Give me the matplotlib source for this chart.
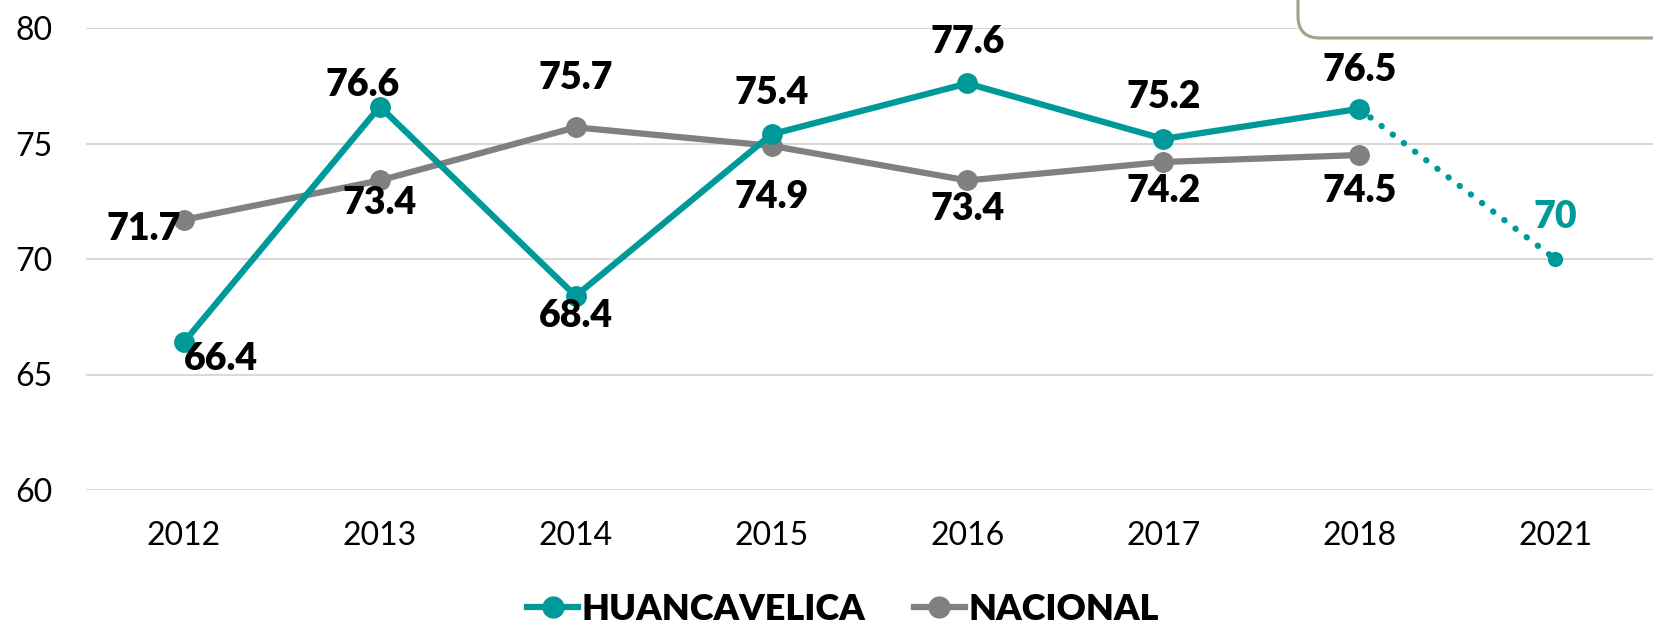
import matplotlib.pyplot as plt
from matplotlib.patches import FancyBboxPatch
from matplotlib.lines import Line2D

plt.rcParams['font.family'] = ['Lato', 'DejaVu Sans']

years = ["2012", "2013", "2014", "2015", "2016", "2017", "2018", "2021"]
huancavelica = [66.4, 76.6, 68.4, 75.4, 77.6, 75.2, 76.5]
nacional = [71.7, 73.4, 75.7, 74.9, 73.4, 74.2, 74.5]
meta_2021 = 70

teal = "#009999"
gray = "#808080"

# label offsets in pixels (dx, dy), dy positive = down
h_off = [(37, 17), (-17, -22), (0, 20), (0, -41), (0, -41), (0, -42), (0, -39)]
n_off = [(-40, 9), (0, 23), (0, -49), (0, 51), (0, 29), (0, 29), (0, 36)]

fig = plt.figure(figsize=(16.53, 6.27), dpi=100)
ax = fig.add_axes([86 / 1653, 1 - 490 / 627, 1 - 86 / 1653, (490 - 28) / 627])

xs = list(range(len(huancavelica)))
ax.plot(xs, nacional, color=gray, lw=4.5, marker="o", ms=14, zorder=3,
        solid_capstyle="round")
ax.plot(xs, huancavelica, color=teal, lw=4.5, marker="o", ms=14, zorder=4,
        solid_capstyle="round")
ax.plot([xs[-1], len(years) - 1], [huancavelica[-1], meta_2021], color=teal,
        lw=4.5, ls=(0, (0.05, 2.2)), dash_capstyle="round", zorder=4)
ax.plot([len(years) - 1], [meta_2021], color=teal, marker="o", ms=10, zorder=4)

lab_kw = dict(textcoords="offset pixels", ha="center", va="center",
              fontsize=27, fontweight="heavy", zorder=6)
for i, v in enumerate(huancavelica):
    ax.annotate(f"{v:.1f}", (i, v), xytext=(h_off[i][0], -h_off[i][1]),
                color="black", **lab_kw)
for i, v in enumerate(nacional):
    ax.annotate(f"{v:.1f}", (i, v), xytext=(n_off[i][0], -n_off[i][1]),
                color="black", **lab_kw)
ax.annotate(f"{meta_2021}", (len(years) - 1, meta_2021), xytext=(0, 42),
            color=teal, **lab_kw)

ax.set_xlim(-0.5, len(years) - 0.5)
ax.set_ylim(60, 80)
ax.set_xticks(range(len(years)))
ax.set_xticklabels(years)
ax.set_yticks([60, 65, 70, 75, 80])
ax.tick_params(length=0, labelsize=23)
ax.tick_params(axis="x", pad=22)
ax.tick_params(axis="y", pad=24)
for s in ax.spines.values():
    s.set_visible(False)
ax.grid(axis="y", color="#D9D9D9", lw=1.5)
ax.set_axisbelow(True)

handles = [Line2D([], [], color=teal, lw=4.5, marker="o", ms=15),
           Line2D([], [], color=gray, lw=4.5, marker="o", ms=15)]
fig.legend(handles, ["HUANCAVELICA", "NACIONAL"], loc="center",
           bbox_to_anchor=(843 / 1653, 1 - 609 / 627), ncol=2, frameon=False,
           prop={"size": 26, "weight": "heavy"}, handlelength=1.4,
           handletextpad=0.1, columnspacing=1.35)

box = FancyBboxPatch((12.98, 6.27 - 0.38), 5, 2, boxstyle="round,pad=0,rounding_size=0.22",
                     transform=fig.dpi_scale_trans, facecolor="white",
                     edgecolor="#98A68A", lw=2.2, clip_on=False, zorder=10)
fig.patches.append(box)

fig.savefig("out.png", dpi=100)
